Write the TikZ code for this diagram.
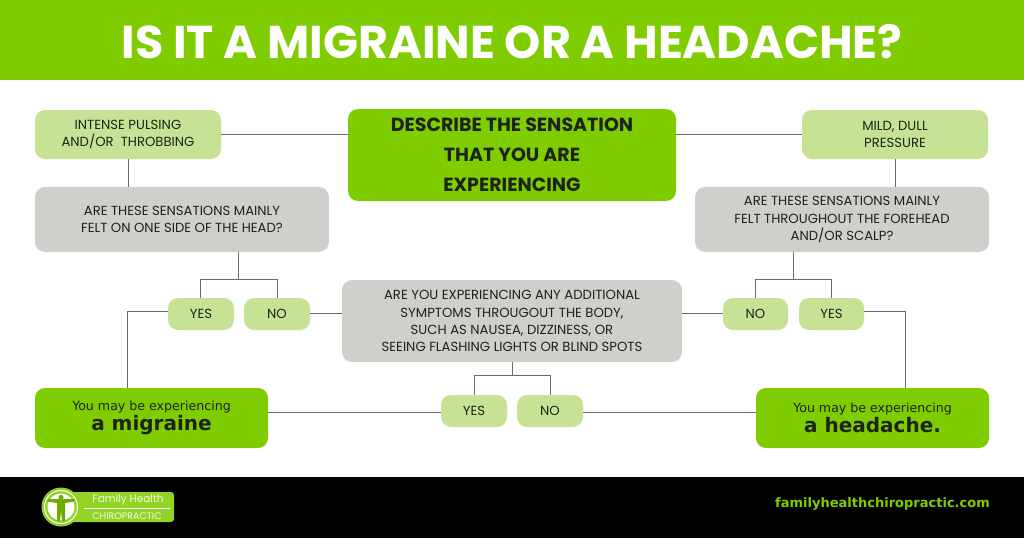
\documentclass[tikz,border=0pt]{standalone}
\usepackage{fontspec}
\setmainfont{Poppins}
\newfontfamily\verd{DejaVu Sans}
\definecolor{brand}{HTML}{7FCC00}
\definecolor{pale}{HTML}{C5E295}
\definecolor{stone}{HTML}{CFD0CB}
\definecolor{ink}{HTML}{1C2418}
\definecolor{wire}{HTML}{6B6B6B}
\tikzset{
 x=1pt,y=-1pt,
 flowbox/.style={rectangle,rounded corners=10pt,inner sep=0pt,align=center,text=ink},
 palebox/.style={flowbox,fill=pale,font=\fontsize{13.2}{16.8}\selectfont},
 greybox/.style={flowbox,fill=stone,font=\fontsize{13.2}{17.2}\selectfont},
 mainbox/.style={flowbox,fill=brand,font=\fontsize{19}{30}\selectfont\bfseries},
 endbox/.style={flowbox,fill=brand,font=\verd\fontsize{12.6}{20}\selectfont},
 wirel/.style={draw=wire,line width=1pt},
}
\newcommand{\boxat}[7]{\node[#1,minimum width=#4-#3,minimum height=#6-#5] (#2) at ({(#3+#4)/2},{(#5+#6)/2}) {#7};}
\begin{document}
\begin{tikzpicture}
\useasboundingbox (0,0) rectangle (1024,538);
\fill[white] (0,0) rectangle (1024,538);
\fill[brand] (0,0) rectangle (1024,80);
\fill[black] (0,477) rectangle (1024,538);
\node[text=white,inner sep=0pt,font=\fontsize{46}{50}\selectfont\bfseries] (title) at (512,42) {IS IT A MIGRAINE OR A HEADACHE?};
\boxat{palebox}{pulse}{35}{221}{110}{159}{INTENSE PULSING\\AND/OR\ \ THROBBING}
\boxat{mainbox}{main}{348}{676}{109}{201}{DESCRIBE THE SENSATION\\THAT YOU ARE\\EXPERIENCING}
\boxat{palebox}{mild}{802}{988}{110}{159}{MILD, DULL\\PRESSURE}
\boxat{greybox}{oneside}{35}{329}{187}{252}{ARE THESE SENSATIONS MAINLY\\FELT ON ONE SIDE OF THE HEAD?}
\boxat{greybox}{forehead}{695}{989}{187}{252}{ARE THESE SENSATIONS MAINLY\\FELT THROUGHOUT THE FOREHEAD\\AND/OR SCALP?}
\boxat{greybox}{extra}{342}{682}{280}{362}{ARE YOU EXPERIENCING ANY ADDITIONAL\\SYMPTOMS THROUGOUT THE BODY,\\SUCH AS NAUSEA, DIZZINESS, OR\\SEEING FLASHING LIGHTS OR BLIND SPOTS}
\boxat{palebox}{yesl}{168}{234}{298}{330}{YES}
\boxat{palebox}{nol}{244}{310}{298}{330}{NO}
\boxat{palebox}{nor}{723}{788}{298}{330}{NO}
\boxat{palebox}{yesr}{799}{864}{298}{330}{YES}
\boxat{palebox}{yesm}{441}{507}{395}{427}{YES}
\boxat{palebox}{nom}{517}{583}{395}{427}{NO}
\boxat{endbox}{migr}{35}{268}{388}{448}{You may be experiencing\\{\fontsize{20}{24}\selectfont\bfseries a migraine}}
\boxat{endbox}{head}{756}{989}{388}{448}{You may be experiencing\\{\fontsize{20}{24}\selectfont\bfseries a headache.}}
% connectors
\coordinate (jl) at (238,279); \coordinate (jr) at (793,279); \coordinate (jm) at (512,375);
\coordinate (cl) at (127,311); \coordinate (cr) at (905,311);
\draw[wirel] (pulse.east) -- (pulse.east -| main.west);
\draw[wirel] (mild.west) -- (mild.west -| main.east);
\draw[wirel] (pulse.south) -- (pulse.south |- oneside.north);
\draw[wirel] (mild.south) -- (mild.south |- forehead.north);
\draw[wirel] (jl |- oneside.south) -- (jl);
\draw[wirel] (yesl.north -| 200,0) -- (200,279) -- (277,279) -- (nol.north);
\draw[wirel] (jr |- forehead.south) -- (jr);
\draw[wirel] (nor.north) -- (755.5,279) -- (831.5,279) -- (yesr.north);
\draw[wirel] (jm |- extra.south) -- (jm);
\draw[wirel] (yesm.north) -- (474,375) -- (550,375) -- (nom.north);
\draw[wirel] (yesl.west |- cl) -- (cl) -- (cl |- migr.north);
\draw[wirel] (yesr.east |- cr) -- (cr) -- (cr |- head.north);
\draw[wirel] (nol.east |- 0,313) -- (extra.west |- 0,313);
\draw[wirel] (extra.east |- 0,313) -- (nor.west |- 0,313);
\draw[wirel] (migr.east |- 0,412) -- (yesm.west |- 0,412);
\draw[wirel] (nom.east |- 0,412) -- (head.west |- 0,412);
% logo
\fill[brand!85!white,rounded corners=3pt] (62,492) rectangle (174,522);
\fill[brand!85!white] (61,507) circle (19.5);
\draw[white,line width=1pt] (61,507) circle (16.5);
\fill[white] (61,507) circle (13.5);
\fill[brand!85!black] (61,497.5) circle (2.6);
\fill[brand!85!black] (47.5,499) -- (74.5,499) -- (74.5,501.5) -- (65,503) -- (65,521) -- (62,521) -- (61,511) -- (60,521) -- (57,521) -- (57,503) -- (47.5,501.5) -- cycle;
\node[text=white!90!brand,inner sep=0pt,font=\fontsize{10.5}{12}\selectfont] (fam) at (128,499.5) {Family Health};
\draw[white,line width=.5pt] (84,508.5) -- (170,508.5);
\node[text=white!90!brand,inner sep=0pt,font=\fontsize{9.5}{12}\selectfont] (chi) at (127,516) {CHIROPRACTIC};
\node[text=brand,inner sep=0pt,anchor=east,font=\verd\fontsize{13}{16}\selectfont\bfseries] (url) at (990,504) {familyhealthchiropractic.com};
\end{tikzpicture}
\end{document}
